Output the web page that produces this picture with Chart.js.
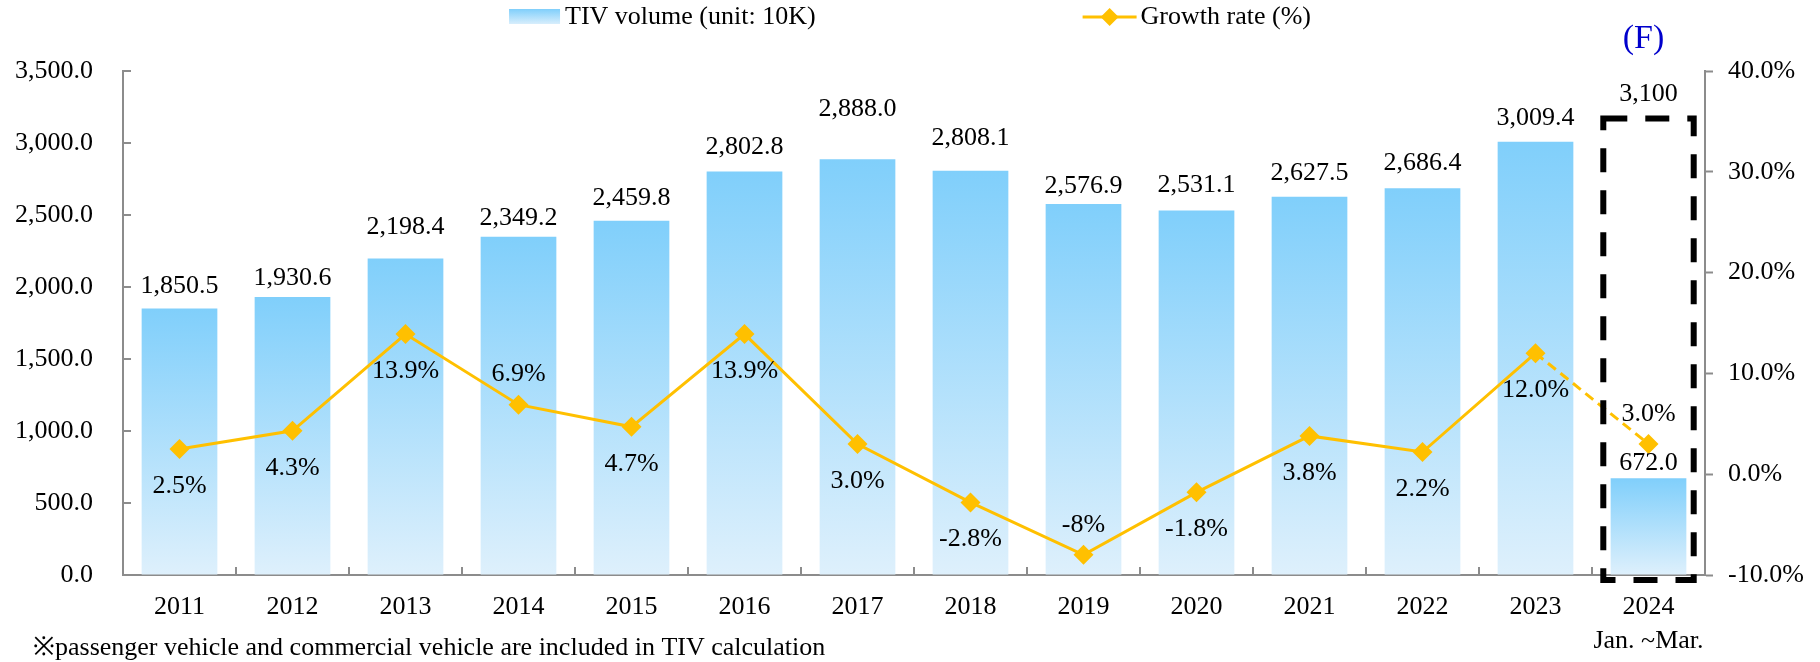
<!DOCTYPE html>
<html>
<head>
<meta charset="utf-8">
<script src="https://cdn.jsdelivr.net/npm/chart.js@4.4.0/dist/chart.umd.min.js"></script>
<style>
  html, body { margin: 0; padding: 0; background: #fff; }
  #wrap { width: 1820px; height: 662px; }
</style>
</head>
<body>
<div id="wrap"><canvas id="tivChart" width="1820" height="662"></canvas></div>
<script>
// chart data
const years = ["2011", "2012", "2013", "2014", "2015", "2016", "2017", "2018", "2019", "2020", "2021", "2022", "2023", "2024"];
const tivVolume = [1850.5, 1930.6, 2198.4, 2349.2, 2459.8, 2802.8, 2888.0, 2808.1, 2576.9, 2531.1, 2627.5, 2686.4, 3009.4, 672.0];
const growthRate = [2.5, 4.3, 13.9, 6.9, 4.7, 13.9, 3.0, -2.8, -8, -1.8, 3.8, 2.2, 12.0, 3.0];
const growthLabels = ["2.5%", "4.3%", "13.9%", "6.9%", "4.7%", "13.9%", "3.0%", "-2.8%", "-8%", "-1.8%", "3.8%", "2.2%", "12.0%", "3.0%"];
const periodNote = "Jan. ~Mar.";
const forecastValue = 3100;
const forecastLabel = "3,100";
const forecastMark = "(F)";
const seriesNames = ["TIV volume (unit: 10K)", "Growth rate (%)"];
const footnote = "\u203Bpassenger vehicle and commercial vehicle are included in TIV calculation";

// label placement (style only)
const growthLabelSide = ["below", "below", "below", "above", "below", "below", "below", "below", "above", "below", "below", "below", "below", "above"];
const barLabelLift = [22, 19, 31, 19, 23, 24, 50, 32, 18, 25, 23, 25, 23, 15];

const FONT = "'Liberation Serif', 'Times New Roman', serif";
const AXIS_COLOR = "#8c8c8c";
const LINE_COLOR = "#FFC000";
const BAR_TOP = "rgb(128, 207, 251)";
const BAR_BOTTOM = "rgb(222, 240, 252)";

function fmt1(v) {
  return v.toLocaleString("en-US", { minimumFractionDigits: 1, maximumFractionDigits: 1 });
}

function serif(size) {
  return Chart.helpers.toFont({ family: FONT, size: size }).string;
}

function barGradient(ctx) {
  const chart = ctx.chart;
  if (!chart.chartArea || ctx.raw === undefined) return BAR_TOP;
  const y = chart.scales.y;
  const top = y.getPixelForValue(ctx.raw);
  const bottom = y.getPixelForValue(0);
  const g = chart.ctx.createLinearGradient(0, top, 0, bottom);
  g.addColorStop(0, BAR_TOP);
  g.addColorStop(1, BAR_BOTTOM);
  return g;
}

// inward tick marks on the left and bottom axes
const innerTicks = {
  id: "innerTicks",
  afterDraw(chart) {
    const { ctx, chartArea, scales } = chart;
    ctx.save();
    ctx.strokeStyle = AXIS_COLOR;
    ctx.lineWidth = 2;
    ctx.beginPath();
    scales.y.ticks.forEach((t, i) => {
      const py = Math.round(scales.y.getPixelForTick(i));
      ctx.moveTo(chartArea.left, py);
      ctx.lineTo(chartArea.left + 8, py);
    });
    const xs = scales.x;
    for (let i = 1; i <= years.length; i++) {
      const px = Math.round(xs.getPixelForValue(i - 0.5));
      ctx.moveTo(px, chartArea.bottom);
      ctx.lineTo(px, chartArea.bottom - 8);
    }
    ctx.stroke();
    ctx.restore();
  }
};

// labels, dashed forecast box, legend and footnote
const annotations = {
  id: "annotations",
  afterDraw(chart) {
    const { ctx, scales } = chart;
    const xs = scales.x, ys = scales.y;
    ctx.save();
    ctx.fillStyle = "#000";
    ctx.textAlign = "center";
    ctx.textBaseline = "middle";

    // bar values
    const barMeta = chart.getDatasetMeta(0);
    barMeta.data.forEach((bar, i) => {
      ctx.font = serif(26);
      ctx.fillText(fmt1(tivVolume[i]), bar.x, bar.y - barLabelLift[i]);
    });

    // growth labels
    const lineMeta = chart.getDatasetMeta(1);
    lineMeta.data.forEach((pt, i) => {
      const dy = growthLabelSide[i] === "above" ? -30 : 37;
      ctx.font = serif(26);
      ctx.fillText(growthLabels[i], pt.x, pt.y + dy);
    });

    // forecast box for the last year
    const last = years.length - 1;
    const cx = xs.getPixelForValue(last);
    const half = (xs.getPixelForValue(1) - xs.getPixelForValue(0)) * 0.4;
    const boxTop = ys.getPixelForValue(forecastValue) - 10;
    const boxBottom = ys.getPixelForValue(0) + 5;
    ctx.strokeStyle = "#000";
    ctx.lineWidth = 6;
    ctx.setLineDash([24, 18]);
    ctx.strokeRect(cx - half, boxTop, half * 2, boxBottom - boxTop);
    ctx.setLineDash([]);
    ctx.font = serif(26);
    ctx.fillText(forecastLabel, cx, boxTop - 24);
    ctx.fillStyle = "#0000cc";
    ctx.font = serif(34);
    ctx.fillText(forecastMark, cx - 5, boxTop - 80);

    // legend
    ctx.font = serif(26);
    ctx.fillStyle = "#000";
    ctx.textAlign = "left";
    const w1 = ctx.measureText(seriesNames[0]).width;
    const w2 = ctx.measureText(seriesNames[1]).width;
    const gap = 267;
    const total = 51 + 5 + w1 + gap + 54 + 4 + w2;
    let lx = chart.width / 2 - total / 2;
    const ly = 17;
    const sg = ctx.createLinearGradient(0, ly - 8, 0, ly + 8);
    sg.addColorStop(0, BAR_TOP);
    sg.addColorStop(1, BAR_BOTTOM);
    ctx.fillStyle = sg;
    ctx.fillRect(lx, ly - 8, 51, 15);
    ctx.fillStyle = "#000";
    ctx.fillText(seriesNames[0], lx + 56, ly);
    lx += 56 + w1 + gap;
    ctx.strokeStyle = LINE_COLOR;
    ctx.lineWidth = 3;
    ctx.beginPath();
    ctx.moveTo(lx, ly);
    ctx.lineTo(lx + 54, ly);
    ctx.stroke();
    ctx.fillStyle = LINE_COLOR;
    ctx.beginPath();
    ctx.moveTo(lx + 27, ly - 9);
    ctx.lineTo(lx + 36, ly);
    ctx.lineTo(lx + 27, ly + 9);
    ctx.lineTo(lx + 18, ly);
    ctx.closePath();
    ctx.fill();
    ctx.fillStyle = "#000";
    ctx.fillText(seriesNames[1], lx + 58, ly);

    // footnote
    ctx.fillText(footnote, 33, 648);
    ctx.restore();
  }
};

function drawChart() {
  new Chart(document.getElementById("tivChart"), {
    data: {
      labels: years,
      datasets: [
        {
          type: "bar",
          label: seriesNames[0],
          data: tivVolume,
          yAxisID: "y",
          backgroundColor: barGradient,
          barPercentage: 0.67,
          categoryPercentage: 1,
          order: 2
        },
        {
          type: "line",
          label: seriesNames[1],
          data: growthRate,
          yAxisID: "y1",
          borderColor: LINE_COLOR,
          backgroundColor: LINE_COLOR,
          borderWidth: 3,
          pointStyle: "rectRot",
          pointRadius: 10,
          pointBorderWidth: 0,
          tension: 0,
          segment: {
            borderDash: (c) => (c.p1DataIndex === growthRate.length - 1 ? [10, 6] : undefined)
          },
          order: 1
        }
      ]
    },
    options: {
      responsive: false,
      animation: false,
      layout: { padding: { top: 71, left: 0, right: 0, bottom: 0 } },
      plugins: {
        legend: { display: false },
        tooltip: { enabled: false }
      },
      scales: {
        x: {
          offset: true,
          grid: { display: true, drawOnChartArea: false, drawTicks: false, color: AXIS_COLOR },
          border: { color: AXIS_COLOR, width: 2 },
          ticks: {
            color: "#000",
            padding: 16,
            maxRotation: 0,
            autoSkip: false,
            font: { family: FONT, size: 26, lineHeight: 1.28 },
            callback: function (v, i) {
              return i === years.length - 1 ? [years[i], periodNote] : years[i];
            }
          },
          afterFit: (s) => { s.height = 87; }
        },
        y: {
          position: "left",
          min: 0,
          max: 3500,
          grid: { display: true, drawOnChartArea: false, drawTicks: false, color: AXIS_COLOR },
          border: { color: AXIS_COLOR, width: 2 },
          ticks: {
            stepSize: 500,
            color: "#000",
            padding: 30,
            font: { family: FONT, size: 26 },
            callback: (v) => fmt1(v)
          },
          afterFit: (s) => { s.width = 123; }
        },
        y1: {
          position: "right",
          min: -10,
          max: 40,
          grid: { display: true, drawOnChartArea: false, drawTicks: true, tickLength: 8, tickWidth: 2, color: AXIS_COLOR },
          border: { color: AXIS_COLOR, width: 2 },
          ticks: {
            stepSize: 10,
            color: "#000",
            padding: 15,
            font: { family: FONT, size: 26 },
            callback: (v) => v.toFixed(1) + "%"
          },
          afterFit: (s) => { s.width = 115; }
        }
      }
    },
    plugins: [innerTicks, annotations]
  });
}

// make sure the serif face is ready before the canvas text is drawn
Promise.all([
  document.fonts.load("26px 'Liberation Serif'"),
  document.fonts.load("34px 'Liberation Serif'")
]).then(drawChart, drawChart);
</script>
</body>
</html>
